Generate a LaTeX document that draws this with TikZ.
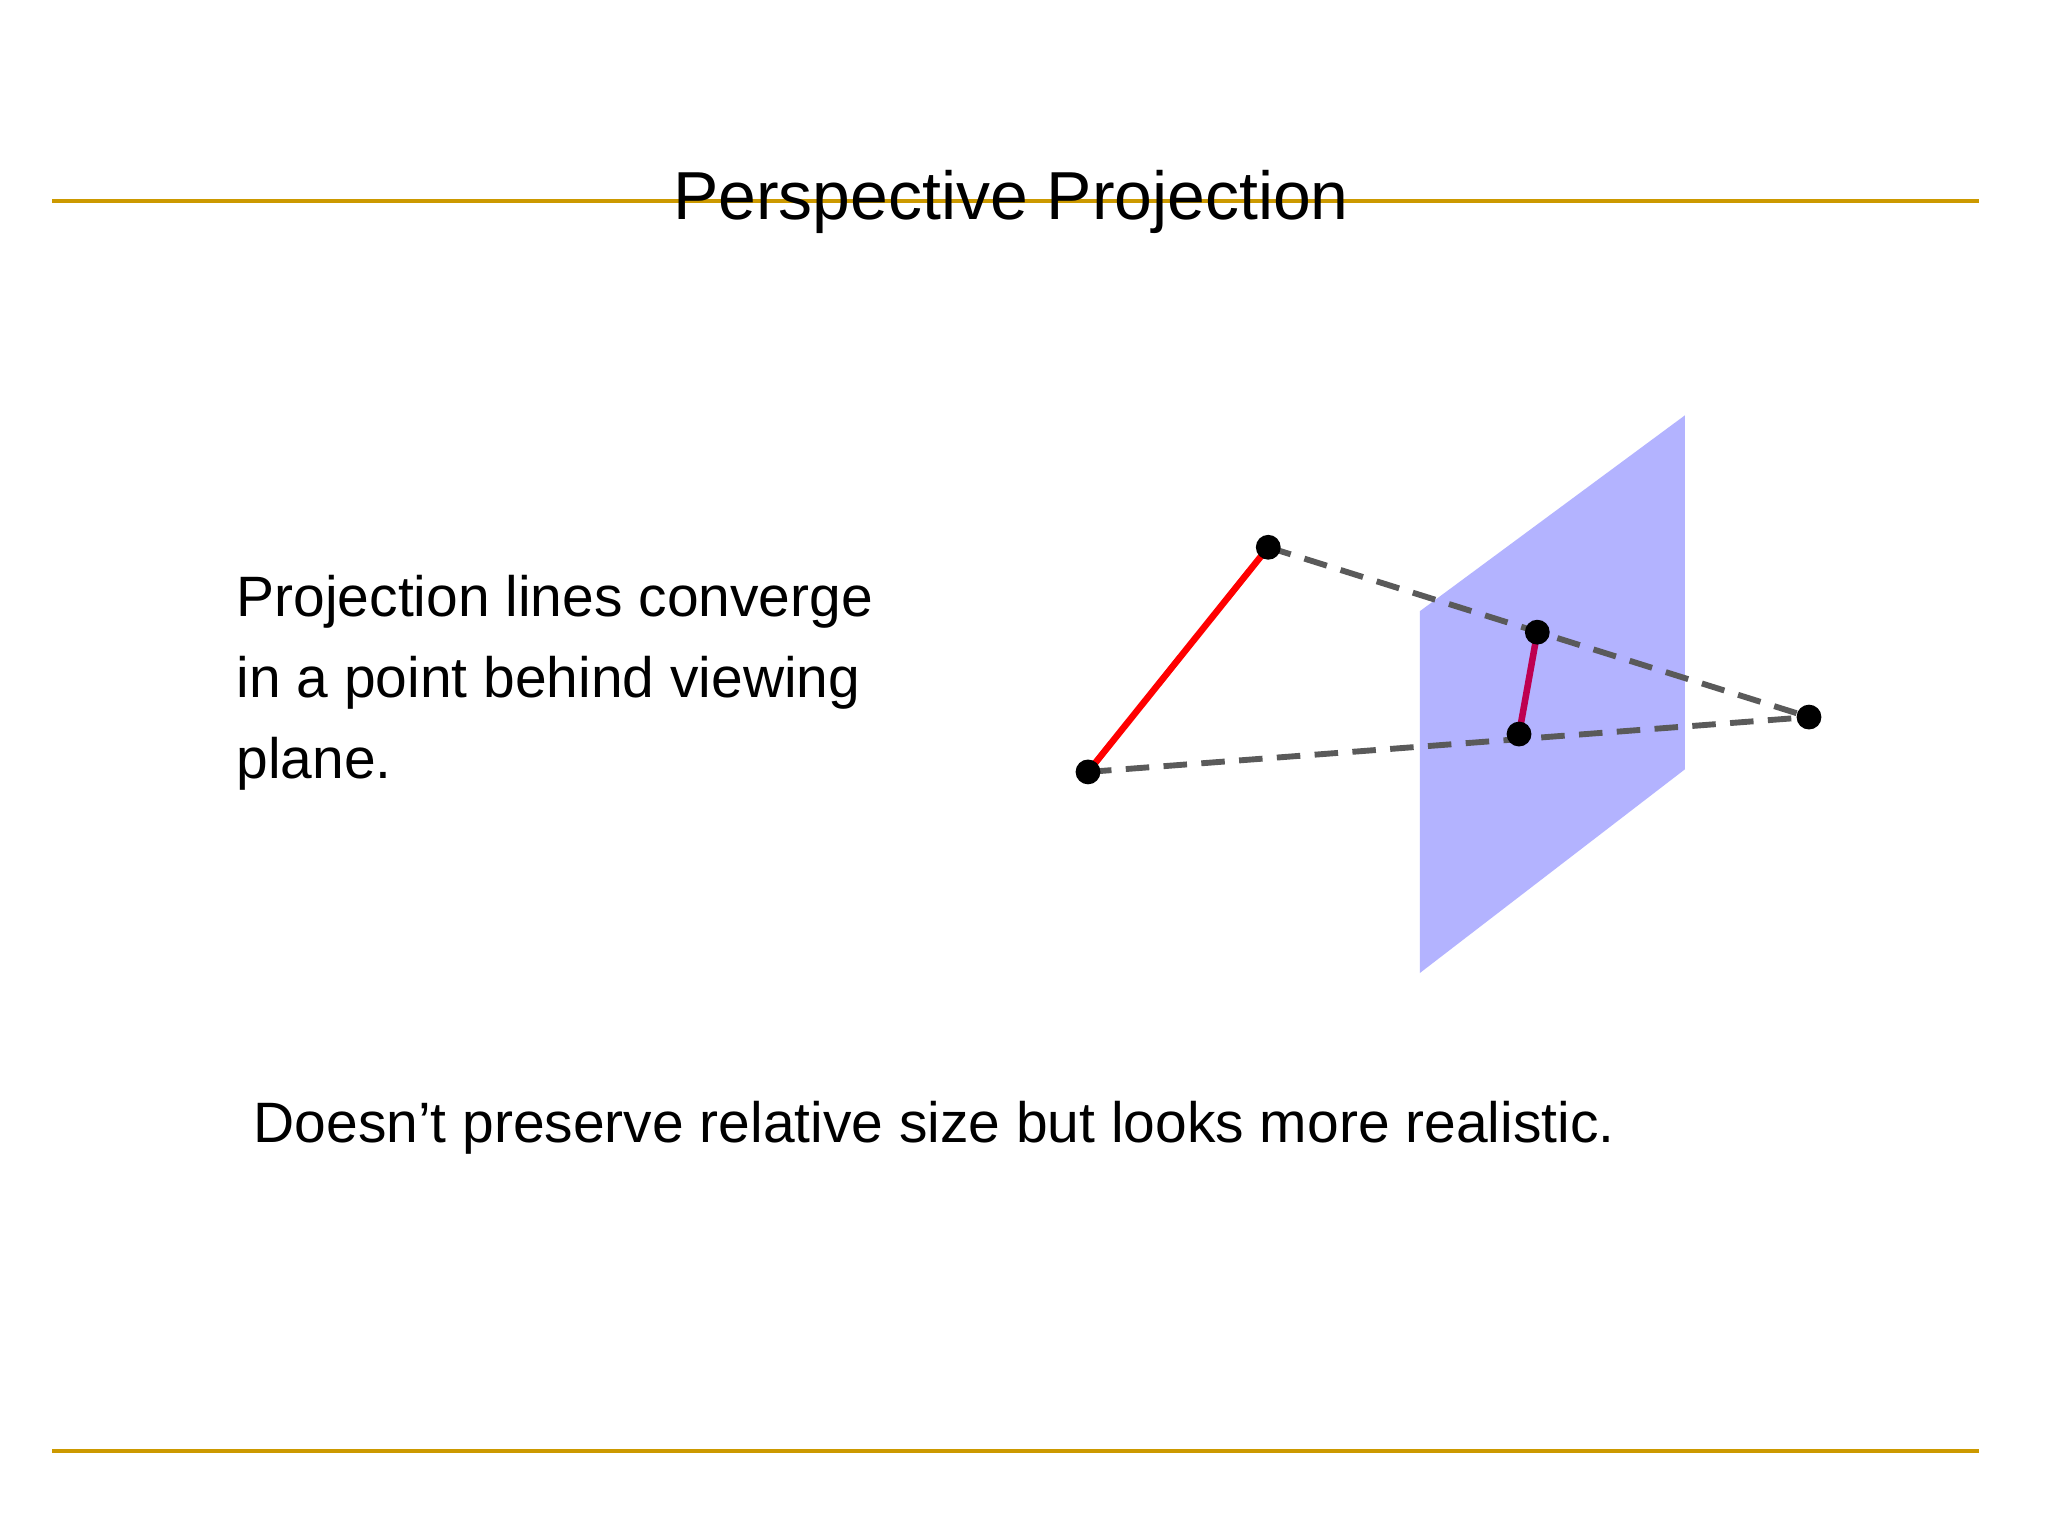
\documentclass[tikz,border=0pt]{standalone}
\usepackage{fontspec}
\setmainfont{Liberation Sans}
\definecolor{goldc}{RGB}{204,153,0}
\definecolor{grayc}{RGB}{90,90,90}
\definecolor{planec}{RGB}{179,179,255}
\definecolor{magc}{RGB}{190,0,80}
\begin{document}
\begin{tikzpicture}[x=1pt,y=-1pt,
  gold/.style={draw=goldc,line width=3pt},
  proj/.style={draw=grayc,line width=4.5pt,dash pattern=on 18pt off 11pt},
  pt/.style={circle,fill=black,inner sep=0pt,minimum size=19pt},
  txt/.style={anchor=base west,inner sep=0pt,font=\fontsize{43.6}{62}\selectfont}]
\useasboundingbox (0,0) rectangle (1568,1176);
\fill[white] (0,0) rectangle (1568,1176);
\draw[gold] (40,154) -- (1515,154);
\draw[gold] (40,1111) -- (1515,1111);
\node[anchor=base,inner sep=0pt,font=\fontsize{52}{60}\selectfont] (title) at (774,168) {Perspective Projection};
\fill[planec] (1087,468) -- (1290,318) -- (1290,589) -- (1087,745) -- cycle;
\coordinate (A) at (971,419);
\coordinate (B) at (833,591);
\coordinate (C) at (1177,484);
\coordinate (D) at (1163,562);
\coordinate (E) at (1385,549);
\draw[proj] (A) -- (E);
\draw[proj] (B) -- (E);
\draw[red,line width=5pt] (A) -- (B);
\draw[magc,line width=5pt] (C) -- (D);
\foreach \p in {A,B,C,D,E} \node[pt] (n\p) at (\p) {};
\node[txt] (t1) at (181,472) {Projection lines converge};
\node[txt] (t2) at (181,534) {in a point behind viewing};
\node[txt] (t3) at (181,596) {plane.};
\node[txt] (t4) at (194,875) {Doesn’t preserve relative size but looks more realistic.};
\end{tikzpicture}
\end{document}
